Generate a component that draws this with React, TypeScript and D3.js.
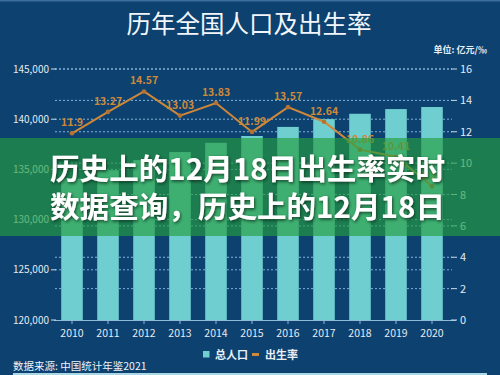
import * as d3 from 'd3'

const years = ['2010', '2011', '2012', '2013', '2014', '2015', '2016', '2017', '2018', '2019', '2020']
// total population (万人)
const population = [134091, 134916, 135922, 136726, 137646, 138326, 139232, 140011, 140541, 141008, 141212]
// birth rate (‰)
const birthRate = [11.9, 13.27, 14.57, 13.03, 13.83, 11.99, 13.57, 12.64, 10.86, 10.41, 8.52]
const leftTicks = [120000, 125000, 130000, 135000, 140000, 145000]
const rightTicks = [0, 2, 4, 6, 8, 10, 12, 14, 16]

const W = 500
const H = 375
const BG = '#0c4170'
const BAR = '#6fcfd0'
const LINE = '#cf8838'
const FONT = '"Noto Sans CJK SC", "Noto Sans", sans-serif'

export default function App() {
  const x = d3.scaleBand<string>().domain(years).range([54, 450]).paddingInner(0.4).paddingOuter(0.2)
  const yL = d3.scaleLinear().domain([120000, 145000]).range([320, 69])
  const yR = d3.scaleLinear().domain([0, 16]).range([320, 69])
  const cx = (y: string) => (x(y) || 0) + x.bandwidth() / 2

  const line = d3.line<number>()
    .x((_, i) => cx(years[i]))
    .y(d => yR(d))

  const fmt = d3.format(',')

  return (
    <svg width={W} height={H} style={{ position: 'absolute', left: 0, top: 0 }} fontFamily={FONT}>
      <defs>
        <filter id="shadow" x="-10%" y="-30%" width="120%" height="160%">
          <feDropShadow dx="1" dy="1.5" stdDeviation="1.5" floodColor="#0a2a1a" floodOpacity="0.8" />
        </filter>
      </defs>
      <rect width={W} height={H} fill={BG} />
      <rect width={W} height={1.5} fill="#3d6d9c" />

      <text x={249} y={33} textAnchor="middle" fill="#f2f6fa" fontSize={24.5}>历年全国人口及出生率</text>
      <text x={487} y={53} textAnchor="end" fill="#e6eef6" fontSize={9} fontWeight="bold">单位: 亿元/‰</text>

      {/* grid lines */}
      {leftTicks.slice(1).map(t => (
        <line key={'gl' + t} x1={55} x2={452} y1={yL(t)} y2={yL(t)} stroke="#86b2d6" strokeWidth={1} strokeDasharray="2,2" />
      ))}
      {rightTicks.slice(1).map(t => (
        <line key={'gr' + t} x1={55} x2={452} y1={yR(t)} y2={yR(t)} stroke="#86b2d6" strokeWidth={1} strokeDasharray="2,2" />
      ))}

      {/* bars */}
      {years.map((y, i) => (
        <rect key={y} x={x(y)} y={yL(population[i])} width={x.bandwidth()} height={320 - yL(population[i])} fill={BAR} />
      ))}

      {/* baseline + x ticks */}
      <line x1={54} x2={456} y1={320.5} y2={320.5} stroke="#8fbbd9" strokeWidth={1} />
      {years.map(y => (
        <line key={'xt' + y} x1={cx(y)} x2={cx(y)} y1={320} y2={324} stroke="#8fbbd9" strokeWidth={1} />
      ))}
      {years.map(y => (
        <text key={'xl' + y} x={cx(y)} y={337} textAnchor="middle" fill="#e3ebf3" fontSize={10.5}>{y}</text>
      ))}

      {/* birth rate line */}
      <path d={line(birthRate) || ''} fill="none" stroke={LINE} strokeWidth={2} />
      {birthRate.map((v, i) => (
        <circle key={'p' + i} cx={cx(years[i])} cy={yR(v)} r={2.3} fill="#b8722f" />
      ))}
      {birthRate.map((v, i) => (
        <text key={'pl' + i} x={cx(years[i])} y={yR(v) - 7} textAnchor="middle" fill={LINE} fontSize={10.5} fontWeight="bold">{v}</text>
      ))}

      {/* left axis */}
      {leftTicks.map(t => (
        <g key={'la' + t}>
          <line x1={51} x2={56} y1={yL(t)} y2={yL(t)} stroke="#c9dbea" strokeWidth={1} />
          <text x={49} y={yL(t) + 3.5} textAnchor="end" fill="#e3ebf3" fontSize={10}>{fmt(t)}</text>
        </g>
      ))}
      {/* right axis */}
      {rightTicks.map(t => (
        <g key={'ra' + t}>
          <line x1={451} x2={457} y1={yR(t)} y2={yR(t)} stroke="#c9dbea" strokeWidth={1} />
          <text x={460} y={yR(t) + 4} textAnchor="start" fill="#e3ebf3" fontSize={11}>{t}</text>
        </g>
      ))}

      {/* green banner overlay */}
      <rect x={0} y={138} width={W} height={98} fill="rgb(36,158,64)" fillOpacity={0.66} />
      <g filter="url(#shadow)" fill="#ffffff" fontWeight="bold" fontSize={29}>
        <text x={50} y={180} textLength={395} lengthAdjust="spacingAndGlyphs">历史上的12月18日出生率实时</text>
        <text x={50} y={218} textLength={395} lengthAdjust="spacingAndGlyphs">数据查询，历史上的12月18日</text>
      </g>

      {/* legend */}
      <rect x={203} y={351} width={6.5} height={6.5} fill={BAR} />
      <text x={215} y={358.5} fill="#e8eff6" fontSize={11} fontWeight="bold">总人口</text>
      <line x1={252} x2={259} y1={354.5} y2={354.5} stroke={LINE} strokeWidth={3} />
      <text x={265} y={358.5} fill="#e8eff6" fontSize={11} fontWeight="bold">出生率</text>

      <text x={13} y={370} fill="#eef3f8" fontSize={10.5}>数据来源: 中国统计年鉴2021</text>
      <rect x={13} y={373} width={474} height={2} fill="#a9d7e6" />
    </svg>
  )
}
